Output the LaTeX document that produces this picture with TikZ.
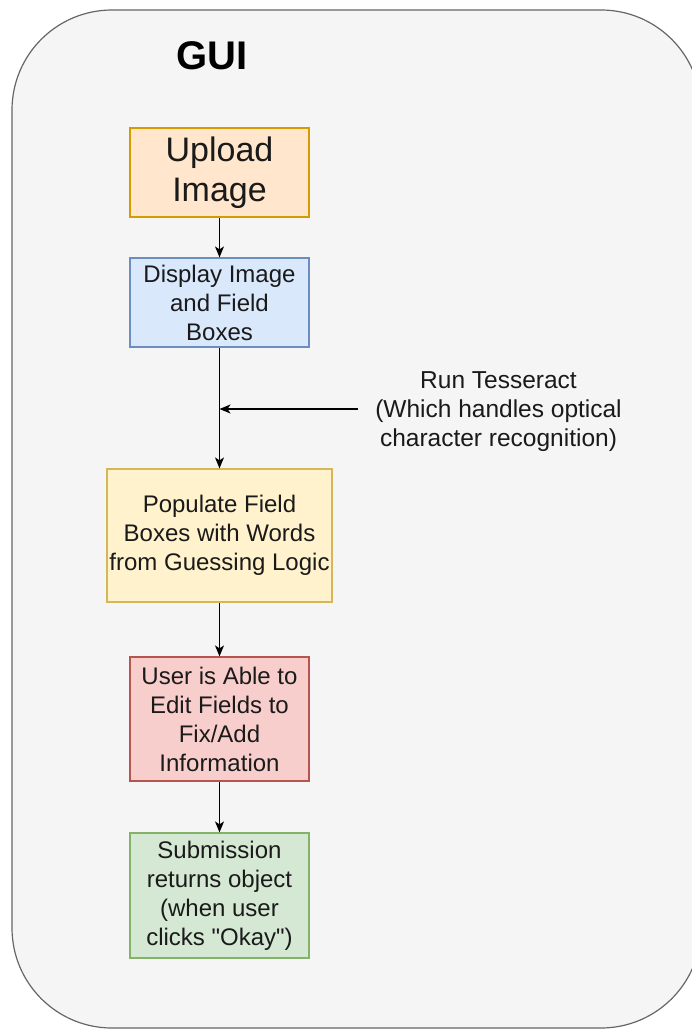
\documentclass[tikz,border=0pt]{standalone}
\usepackage{fontspec}
\setmainfont{Liberation Sans}
% same face without the TeX input mapping, so that " stays a straight quote
\newfontfamily\straightq{Liberation Sans}
\usetikzlibrary{arrows.meta}
\definecolor{panelfill}{HTML}{F5F5F5}
\definecolor{panelline}{HTML}{666666}
\definecolor{txt}{HTML}{1A1A1A}
\definecolor{orfill}{HTML}{FFE6CC}\definecolor{orline}{HTML}{D79B00}
\definecolor{blfill}{HTML}{DAE8FC}\definecolor{blline}{HTML}{6C8EBF}
\definecolor{yefill}{HTML}{FFF2CC}\definecolor{yeline}{HTML}{D6B656}
\definecolor{rdfill}{HTML}{F8CECC}\definecolor{rdline}{HTML}{B85450}
\definecolor{grfill}{HTML}{D5E8D4}\definecolor{grline}{HTML}{82B366}
\tikzset{
  flowbox/.style={draw, line width=1.2pt, align=center, inner sep=0pt,
    text=txt, font=\fontsize{24}{29}\selectfont},
  flowarrow/.style={-{Stealth[length=11pt,width=9pt,inset=3pt]}, line width=1.4pt, black},
}
\begin{document}
\begin{tikzpicture}[x=1pt,y=-1pt]
\useasboundingbox (0,0) rectangle (691,1030);
% container panel
\draw[fill=panelfill, draw=panelline, line width=1.2pt, rounded corners=100pt]
  (12,10) rectangle (701,1028);
\node[font=\fontsize{40}{48}\selectfont\bfseries] (title) at (212,56) {GUI};

% process steps
\node[flowbox, fill=orfill, draw=orline, minimum width=179pt, minimum height=89pt,
  font=\fontsize{34}{40}\selectfont] (upload) at (219.5,172.5) {Upload\\Image};
\node[flowbox, fill=blfill, draw=blline, minimum width=179pt, minimum height=89pt]
  (display) at (219.5,302.5) {Display Image\\and Field\\Boxes};
\node[flowbox, fill=yefill, draw=yeline, minimum width=225pt, minimum height=133pt]
  (populate) at (219.5,535.5) {Populate Field\\Boxes with Words\\from Guessing Logic};
\node[flowbox, fill=rdfill, draw=rdline, minimum width=179pt, minimum height=124pt]
  (edit) at (219.5,719) {User is Able to\\Edit Fields to\\Fix/Add\\Information};
\node[flowbox, fill=grfill, draw=grline, minimum width=179pt, minimum height=125pt]
  (submit) at (219.5,895.5) {Submission\\returns object\\(when user\\clicks {\straightq"}Okay{\straightq"})};

% side note
\node[align=center, text=txt, font=\fontsize{24.5}{29}\selectfont, inner sep=0pt]
  (tess) at (498.5,412) {Run Tesseract\\(Which handles optical\\character recognition)};
\coordinate (tessjoin) at (display.south |- 0,409);

% connectors
\draw[flowarrow] (upload) -- (display);
\draw[flowarrow] (display) -- (populate);
\draw[flowarrow] (populate) -- (edit);
\draw[flowarrow] (edit) -- (submit);
\draw[flowarrow] ([xshift=-17pt]tess.west |- tessjoin) -- (tessjoin);
\end{tikzpicture}
\end{document}
